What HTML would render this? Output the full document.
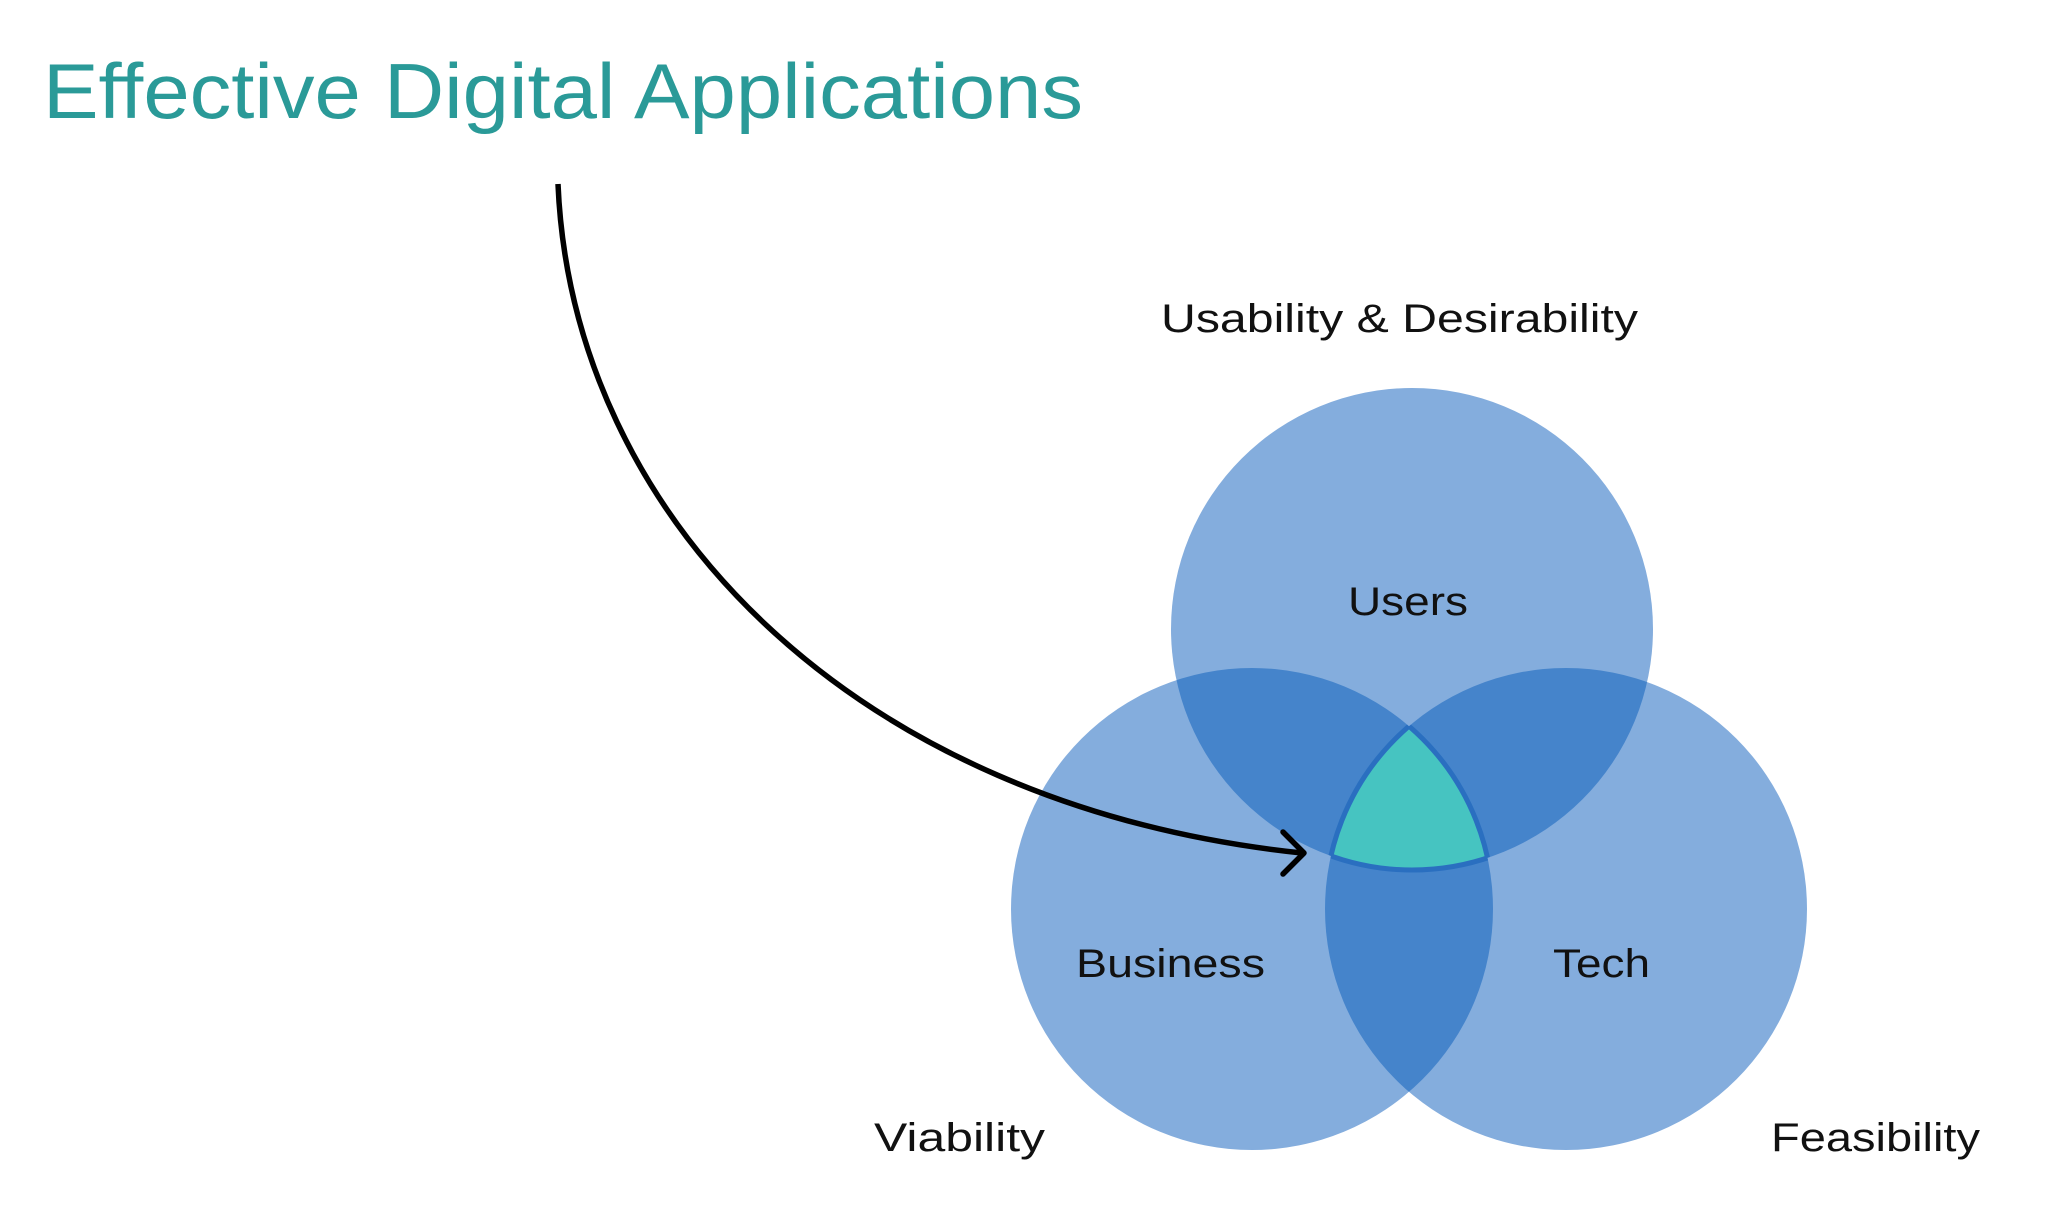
<!DOCTYPE html>
<html><head><meta charset="utf-8"><style>html,body{margin:0;padding:0;background:#fff;width:2054px;height:1222px;overflow:hidden}</style></head>
<body>
<svg width="2054" height="1222" viewBox="0 0 2054 1222" xmlns="http://www.w3.org/2000/svg">
<defs>
<clipPath id="cu"><circle cx="1420" cy="633" r="241"/></clipPath>
<clipPath id="cb"><circle cx="1260" cy="913" r="241"/></clipPath>
<clipPath id="ct"><circle cx="1574" cy="913" r="241"/></clipPath>
</defs>
<text x="43" y="118" font-family="Liberation Sans, sans-serif" font-size="78" fill="#2a9a98" textLength="1040" lengthAdjust="spacingAndGlyphs">Effective Digital Applications</text>
<g transform="translate(-8,-4)">
<circle cx="1420" cy="633" r="241" fill="#84addd"/>
<circle cx="1260" cy="913" r="241" fill="#84addd"/>
<circle cx="1574" cy="913" r="241" fill="#84addd"/>
<g clip-path="url(#cu)"><circle cx="1260" cy="913" r="241" fill="#4584cb"/><circle cx="1574" cy="913" r="241" fill="#4584cb"/></g>
<g clip-path="url(#cb)"><circle cx="1574" cy="913" r="241" fill="#4584cb"/></g>
<g clip-path="url(#cu)"><g clip-path="url(#cb)"><circle cx="1574" cy="913" r="241" fill="#46c4c1" stroke="#2a6fc0" stroke-width="5"/></g></g>
<g clip-path="url(#cu)"><g clip-path="url(#ct)"><circle cx="1260" cy="913" r="241" fill="none" stroke="#2a6fc0" stroke-width="5"/></g></g>
<g clip-path="url(#cb)"><g clip-path="url(#ct)"><circle cx="1420" cy="633" r="241" fill="none" stroke="#2a6fc0" stroke-width="5"/></g></g>
<g font-family="Liberation Sans, sans-serif" font-size="40" fill="#111">
<text x="1169" y="336" textLength="477" lengthAdjust="spacingAndGlyphs">Usability &amp; Desirability</text>
<text x="1356" y="619" textLength="120" lengthAdjust="spacingAndGlyphs">Users</text>
<text x="1084" y="981" textLength="189" lengthAdjust="spacingAndGlyphs">Business</text>
<text x="1561" y="981" textLength="97" lengthAdjust="spacingAndGlyphs">Tech</text>
<text x="882" y="1155" textLength="171" lengthAdjust="spacingAndGlyphs">Viability</text>
<text x="1779" y="1155" textLength="209" lengthAdjust="spacingAndGlyphs">Feasibility</text>
</g>
<path d="M566 188 C 580 520, 860 810, 1310 857" fill="none" stroke="#000" stroke-width="5.5"/>
<path d="M1291 836 L1312 857 L1291 878" fill="none" stroke="#000" stroke-width="5.5" stroke-linecap="round" stroke-linejoin="round"/>
</g>
</svg>
</body></html>
